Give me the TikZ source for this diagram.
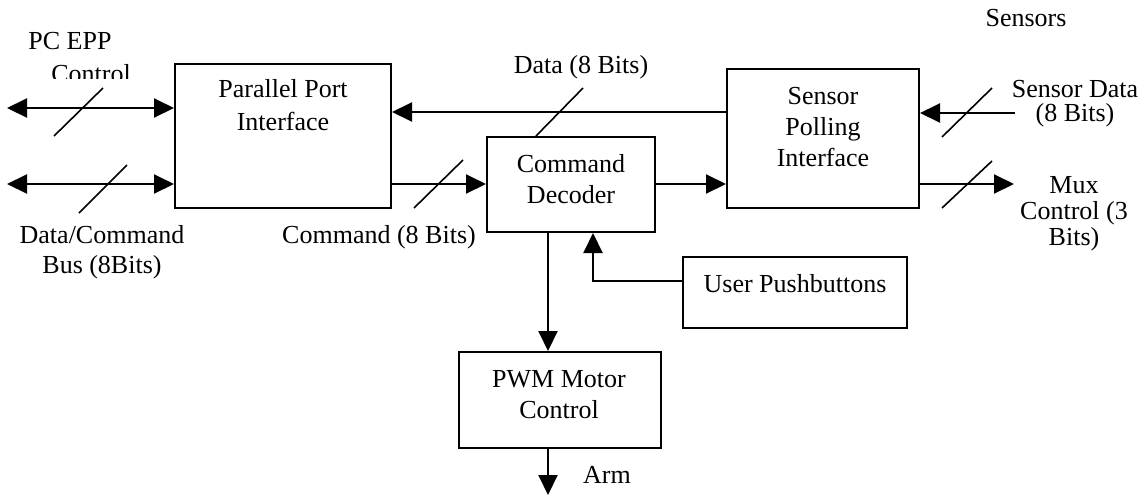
\documentclass[tikz,border=0pt]{standalone}
\usepackage{fontspec}
\setmainfont{Liberation Serif}
\usetikzlibrary{arrows.meta}
\begin{document}
\begin{tikzpicture}[x=1pt,y=-1pt,
  every node/.style={font=\fontsize{26}{30}\selectfont, inner sep=0pt},
  block/.style={draw, line width=2pt, rectangle, inner sep=0pt},
  txt/.style={align=center, anchor=base},
  wire/.style={line width=2pt},
  arr/.style={wire, -{Triangle[length=20pt,width=19pt]}},
  biarr/.style={wire, {Triangle[length=20pt,width=19pt]}-{Triangle[length=20pt,width=19pt]}},
  slash/.style={line width=1.6pt}]
\useasboundingbox (0,0) rectangle (1146,496);

% blocks
\node[block, minimum width=216pt, minimum height=144pt] (ppi) at (283,136) {};
\node[block, minimum width=168pt, minimum height=95pt] (cd) at (571,184.5) {};
\node[block, minimum width=192pt, minimum height=139pt] (spi) at (823,138.5) {};
\node[block, minimum width=224pt, minimum height=71pt] (upb) at (795,292.5) {};
\node[block, minimum width=202pt, minimum height=96pt] (pwm) at (560,400) {};

% block captions (base anchor sits on the last line)
\node[txt, font=\fontsize{26}{33}\selectfont] (tppi) at (283,130) {Parallel Port\\Interface};
\node[txt, font=\fontsize{26}{31}\selectfont] (tcd) at (571,203) {Command\\Decoder};
\node[txt, font=\fontsize{26}{31}\selectfont] (tspi) at (823,166) {Sensor\\Polling\\Interface};
\node[txt] (tupb) at (795,292) {User Pushbuttons};
\node[txt, font=\fontsize{26}{31}\selectfont] (tpwm) at (559,418) {PWM Motor\\Control};

% signal labels
\node[txt] (lpc) at (70,49) {PC EPP};
\begin{scope}
  \clip (0,0) rectangle (170,78);
  \node[txt] (lctl) at (91,82) {Control};
\end{scope}
\node[txt, font=\fontsize{26}{30}\selectfont] (lbus) at (102,273) {Data/Command\\Bus (8Bits)};
\node[txt] (ldata) at (581,73) {Data (8 Bits)};
\node[txt] (lcmd) at (379,243) {Command (8 Bits)};
\node[txt] (lsens) at (1026,26) {Sensors};
\node[txt, font=\fontsize{26}{24}\selectfont] (lsd) at (1075,121) {Sensor Data\\(8 Bits)};
\node[txt, font=\fontsize{26}{26}\selectfont] (lmux) at (1074,245) {Mux\\Control (3\\Bits)};
\node[anchor=base west] (larm) at (583,483) {Arm};

% free ends
\coordinate (pcend) at (7,108);
\coordinate (busend) at (7,184);
\coordinate (sdend) at (1015,113);
\coordinate (muxend) at (1014,184);
\coordinate (armend) at (548,495);
\coordinate (upbturn) at (593,281);

% connectors
\draw[biarr] (pcend) -- (pcend -| ppi.west);
\draw[biarr] (busend) -- (busend -| ppi.west);
\draw[arr] (spi.west |- 0,112) -- (ppi.east |- 0,112);
\draw[arr] (ppi.east |- 0,184) -- (cd.west |- 0,184);
\draw[arr] (cd.east |- 0,184) -- (spi.west |- 0,184);
\draw[arr] (sdend) -- (sdend -| spi.east);
\draw[arr] (muxend -| spi.east) -- (muxend);
\draw[arr] (upb.west |- upbturn) -- (upbturn) -- (upbturn |- cd.south);
\draw[arr] (cd.south -| armend) -- (pwm.north -| armend);
\draw[arr] (pwm.south -| armend) -- (armend);

% bus width marks
\draw[slash] (54,136) -- (103,88);
\draw[slash] (79,213) -- (127,165);
\draw[slash] (536,136) -- (583,88);
\draw[slash] (414,208) -- (463,160);
\draw[slash] (942,137) -- (992,88);
\draw[slash] (942,208) -- (992,161);
\end{tikzpicture}
\end{document}
